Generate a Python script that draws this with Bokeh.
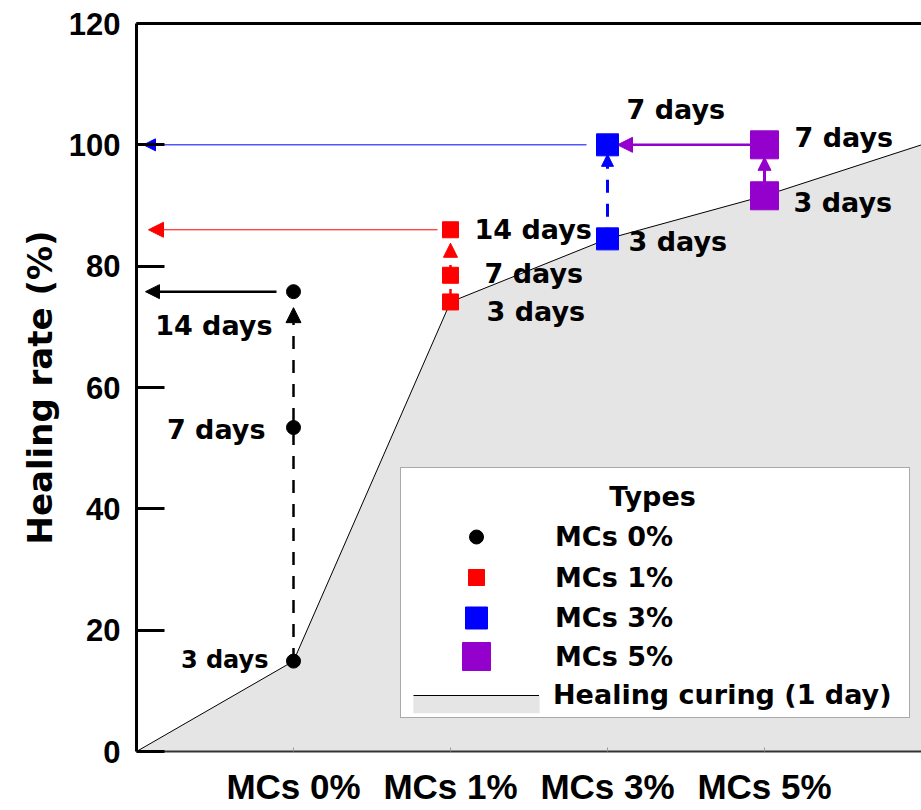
from bokeh.plotting import figure
from bokeh.models import (Range1d, LinearAxis, FixedTicker, Arrow, NormalHead,
                          ColumnDataSource, Legend, LegendItem, BoxAnnotation, Label)
from bokeh.core.properties import value
from bokeh.embed import file_html
from bokeh.resources import INLINE

# ---------------- data ----------------
categories = ["MCs 0%", "MCs 1%", "MCs 3%", "MCs 5%"]
cat_x = [1, 2, 3, 4]

mc0_days = ["3 days", "7 days", "14 days"]
mc0_vals = [14.9, 53.4, 75.8]

mc1_days = ["3 days", "7 days", "14 days"]
mc1_vals = [74.1, 78.5, 86.0]

mc3_days = ["3 days", "7 days"]
mc3_vals = [84.5, 100.0]

mc5_days = ["3 days", "7 days"]
mc5_vals = [91.6, 100.0]

curing_x = [0, 1, 2, 3, 4, 5]
curing_y = [0.0, 14.9, 74.1, 84.5, 91.6, 100.0]

y_ticks = [0, 20, 40, 60, 80, 100, 120]

# ---------------- layout ----------------
W, H = 921, 810
LEFT, TOP, BOTTOM = 136, 23, 59
X0, X1, Y0, Y1 = 0, 5, 0, 120
PX_X = (W - LEFT) / (X1 - X0)
PX_Y = (H - TOP - BOTTOM) / (Y1 - Y0)

BOLD_AR = "Liberation Sans"
BOLD_DJ = "DejaVu Sans"

p = figure(width=W, height=H, x_range=Range1d(X0, X1), y_range=Range1d(Y0, Y1),
           output_backend="svg", toolbar_location=None,
           min_border_left=LEFT, min_border_right=0, min_border_top=TOP,
           min_border_bottom=BOTTOM)
p.outline_line_color = None
p.xgrid.visible = False
p.ygrid.visible = False
p.background_fill_color = "white"
p.border_fill_color = "white"

# y axis
ya = p.yaxis[0]
ya.ticker = FixedTicker(ticks=y_ticks, minor_ticks=[])
ya.axis_line_width = 3
ya.axis_line_color = "black"
ya.major_tick_in = 28
ya.major_tick_out = 0
ya.major_tick_line_width = 3
ya.major_tick_line_color = "black"
ya.minor_tick_line_color = None
ya.major_label_text_font = BOLD_AR
ya.major_label_text_font_style = "bold"
ya.major_label_text_font_size = "31px"
ya.major_label_text_color = "black"
ya.major_label_standoff = 16
ya.axis_label = "Healing rate (%)"
ya.axis_label_text_font = BOLD_DJ
ya.axis_label_text_font_style = "bold"
ya.axis_label_text_font_size = "34px"
ya.axis_label_text_color = "black"
ya.axis_label_standoff = 6

# x axis
xa = p.xaxis[0]
xa.ticker = FixedTicker(ticks=cat_x, minor_ticks=[])
xa.major_label_overrides = {x: c for x, c in zip(cat_x, categories)}
xa.axis_line_width = 2
xa.axis_line_color = "#333333"
xa.major_tick_in = 4
xa.major_tick_out = 0
xa.major_tick_line_color = "#999999"
xa.major_tick_line_width = 1
xa.minor_tick_line_color = None
xa.major_label_text_font = BOLD_AR
xa.major_label_text_font_style = "bold"
xa.major_label_text_font_size = "35px"
xa.major_label_text_color = "black"
xa.major_label_standoff = 15

# top frame line
top_axis = LinearAxis(ticker=FixedTicker(ticks=[], minor_ticks=[]), axis_line_width=3,
                      axis_line_color="black", major_tick_in=0, major_tick_out=0,
                      minor_tick_line_color=None, major_label_text_font_size="0px",
                      major_label_standoff=0)
p.add_layout(top_axis, "above")

# ---------------- healing curing area ----------------
area_r = p.varea(x=curing_x, y1=[0] * len(curing_x), y2=curing_y, fill_color="#e5e5e5")
line_r = p.line(x=curing_x, y=curing_y, line_color="black", line_width=1)

# ---------------- arrows ----------------
def add_arrow(xs, ys, xe, ye, color, lw, head, dash="solid"):
    a = Arrow(start=None,
              end=NormalHead(size=head, fill_color=color, line_color=color, line_width=1),
              x_start=xs, y_start=ys, x_end=xe, y_end=ye,
              line_color=color, line_width=lw, line_dash=dash, level="underlay")
    p.add_layout(a)

# vertical dashed arrows (3 days -> last)
add_arrow(cat_x[0], mc0_vals[0], cat_x[0], mc0_vals[-1] - 16 / PX_Y, "black", 2.5, 15, "13 11")
add_arrow(cat_x[1], mc1_vals[0], cat_x[1], mc1_vals[-1] - 13.5 / PX_Y, "red", 2.5, 14, "13 11")
add_arrow(cat_x[2], mc3_vals[0] - 2 / PX_Y, cat_x[2], mc3_vals[-1] - 9.5 / PX_Y, "blue", 3, 12, "13 11")
add_arrow(cat_x[3], mc5_vals[0], cat_x[3], mc5_vals[-1] - 12.5 / PX_Y, "#9400cc", 3, 13)

# horizontal arrows to the axis
add_arrow(cat_x[0] - 17 / PX_X, mc0_vals[-1], X0 + 9 / PX_X, mc0_vals[-1], "black", 2.5, 14)
add_arrow(cat_x[1] - 13 / PX_X, mc1_vals[-1], X0 + 12 / PX_X, mc1_vals[-1], "red", 1, 15)
add_arrow(cat_x[2] - 21 / PX_X, mc3_vals[-1], X0 + 7 / PX_X, mc3_vals[-1], "blue", 1, 12)
add_arrow(cat_x[3] - 14 / PX_X, mc5_vals[-1], cat_x[2] + 10 / PX_X, mc5_vals[-1], "#9400cc", 2.5, 15)

# ---------------- points ----------------
r0 = p.scatter(x=[cat_x[0]] * len(mc0_vals), y=mc0_vals, marker="circle", size=14,
               fill_color="black", line_color="black")
r1 = p.scatter(x=[cat_x[1]] * len(mc1_vals), y=mc1_vals, marker="square", size=16,
               fill_color="red", line_color="red")
r3 = p.scatter(x=[cat_x[2]] * len(mc3_vals), y=mc3_vals, marker="square", size=22,
               fill_color="blue", line_color="blue")
r5 = p.scatter(x=[cat_x[3]] * len(mc5_vals), y=mc5_vals, marker="square", size=28,
               fill_color="#9400cc", line_color="#9400cc")

# ---------------- day labels ----------------
# black (right aligned, left of points)
left_src = ColumnDataSource(dict(
    x=[cat_x[0]] * 3, y=mc0_vals, text=mc0_days,
    xo=[-25, -28, -21], yo=[-1, 2, 34], fs=["24px", "27px", "27px"]))
p.text(x="x", y="y", text="text", x_offset="xo", y_offset="yo", source=left_src,
       text_font=value(BOLD_DJ), text_font_style="bold", text_font_size="fs",
       text_align="right", text_baseline="middle", text_color="black")

# coloured groups (left aligned, right of points)
rx = [cat_x[1]] * 3 + [cat_x[2]] * 2 + [cat_x[3]] * 2
ry = mc1_vals + mc3_vals + mc5_vals
rt = mc1_days + mc3_days + mc5_days
right_src = ColumnDataSource(dict(
    x=rx, y=ry, text=rt,
    xo=[36, 34, 24, 21, 19, 29, 30],
    yo=[10, -2, 0, 3, -35, 7, -7]))
p.text(x="x", y="y", text="text", x_offset="xo", y_offset="yo", source=right_src,
       text_font=value(BOLD_DJ), text_font_style="bold", text_font_size="27px",
       text_align="left", text_baseline="middle", text_color="black")

# ---------------- legend ----------------
box = BoxAnnotation(left=400 - LEFT, right=909 - LEFT, top=H - BOTTOM - 467, bottom=H - BOTTOM - 717,
                    left_units="screen", right_units="screen", top_units="screen",
                    bottom_units="screen", fill_color="white", fill_alpha=1,
                    line_color="black", line_width=1, level="annotation")
p.add_layout(box)
p.add_layout(Label(x=652 - LEFT, y=H - BOTTOM - 496, x_units="screen", y_units="screen",
                   text="Types", text_align="center", text_baseline="middle",
                   text_font=BOLD_DJ, text_font_style="bold", text_font_size="27px",
                   text_color="black"))

# (label, renderers, row centre y, glyph height, glyph left x, glyph width, standoff)
legend_rows = [
    ("MCs 0%", [r0], 536, 35, 397, 158, 0),
    ("MCs 1%", [r1], 577, 40, 397, 158, 0),
    ("MCs 3%", [r3], 617, 55, 397, 158, 0),
    ("MCs 5%", [r5], 656, 70, 397, 158, 0),
    ("", [area_r], 704, 22, 397, 158, 0),
    ("Healing curing (1 day)", [line_r], 696, 28, 413, 126, 14),
]
for label, rends, ymid, gh, gx, gw, so in legend_rows:
    lg = Legend(items=[LegendItem(label=label, renderers=rends)],
                location=(gx - LEFT, H - BOTTOM - (ymid + gh / 2)),
                glyph_width=gw, glyph_height=gh, label_height=gh,
                label_standoff=so, padding=0, margin=0, spacing=0,
                border_line_color=None, background_fill_alpha=0,
                label_text_font=BOLD_DJ, label_text_font_style="bold",
                label_text_font_size="27px", label_text_color="black")
    p.add_layout(lg)

open("out.html", "w").write(file_html(p, INLINE))
